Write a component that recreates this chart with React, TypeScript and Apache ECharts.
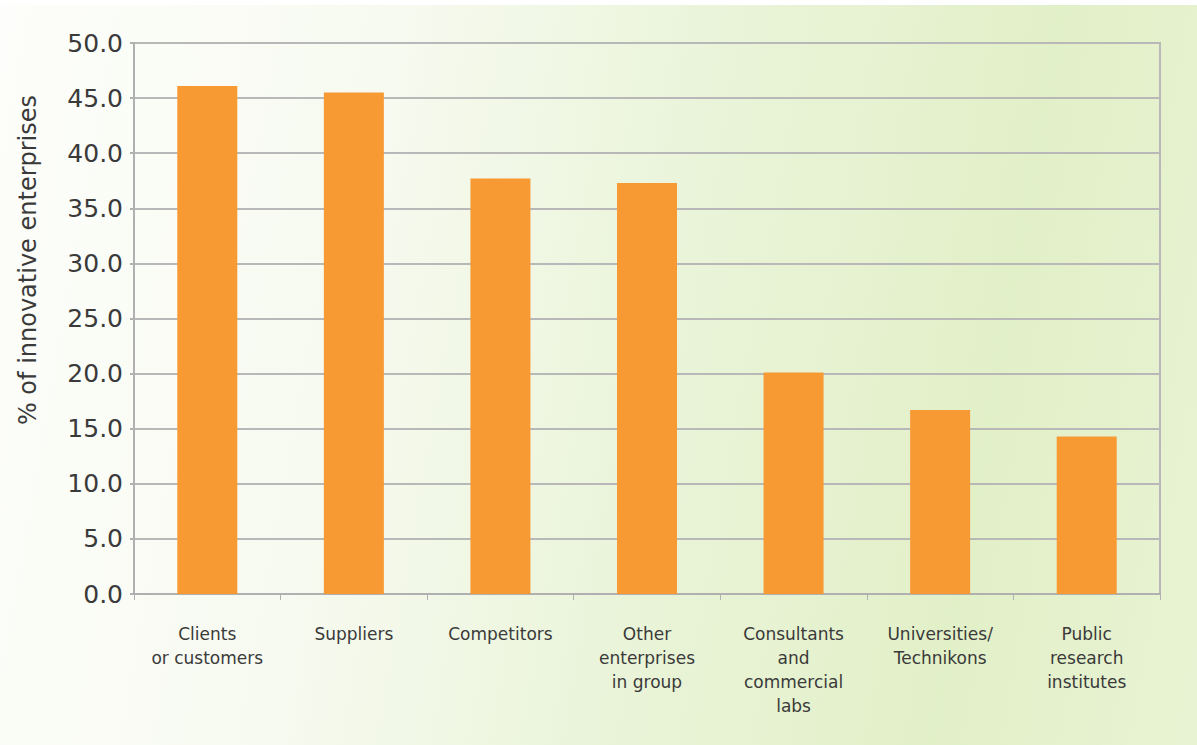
import React, { useEffect, useRef } from "react";
import * as echarts from "echarts";

const categories = [
  "Clients\nor customers",
  "Suppliers",
  "Competitors",
  "Other\nenterprises\nin group",
  "Consultants\nand\ncommercial\nlabs",
  "Universities/\nTechnikons",
  "Public\nresearch\ninstitutes",
];
const values = [46.1, 45.5, 37.7, 37.3, 20.1, 16.7, 14.3];
const yAxisName = "% of innovative enterprises";

const FONT = "'DejaVu Sans', sans-serif";

export default function App() {
  const ref = useRef<HTMLDivElement>(null);
  useEffect(() => {
    if (!ref.current) return;
    const chart = echarts.init(ref.current, undefined, { renderer: "svg" });
    chart.setOption({
      animation: false,
      grid: {
        left: 134,
        right: 37,
        top: 43,
        bottom: 151,
        show: true,
        borderColor: "#b8b8b8",
        borderWidth: 2,
        backgroundColor: "transparent",
      },
      graphic: [
        {
          type: "text",
          x: 28,
          y: 260,
          rotation: Math.PI / 2,
          style: {
            text: yAxisName,
            fill: "#3a3a3a",
            fontFamily: FONT,
            fontSize: 24,
            align: "center",
            verticalAlign: "middle",
          },
        },
      ],
      xAxis: {
        type: "category",
        data: categories,
        axisLine: { lineStyle: { color: "#b0b0b0", width: 2 } },
        axisTick: { show: true, length: 6, lineStyle: { color: "#b0b0b0", width: 1 } },
        axisLabel: {
          color: "#3a3a3a",
          fontFamily: FONT,
          fontSize: 17,
          lineHeight: 24,
          margin: 28,
          interval: 0,
        },
      },
      yAxis: {
        type: "value",
        min: 0,
        max: 50,
        interval: 5,
        axisLine: { show: true, lineStyle: { color: "#b0b0b0", width: 2 } },
        axisTick: { show: true, length: 4, lineStyle: { color: "#b0b0b0", width: 2 } },
        splitLine: { lineStyle: { color: "#b8b8b8", width: 2 } },
        axisLabel: {
          color: "#3a3a3a",
          fontFamily: FONT,
          fontSize: 25,
          margin: 11,
          formatter: (v: number) => v.toFixed(1),
        },
      },
      series: [
        {
          type: "bar",
          data: values,
          barWidth: 60,
          itemStyle: { color: "#f89a33" },
        },
      ],
    });
    return () => chart.dispose();
  }, []);
  return (
    <div
      style={{
        position: "fixed",
        left: 0,
        top: 0,
        width: 1197,
        height: 745,
        boxSizing: "border-box",
        borderTop: "5px solid #ffffff",
        background:
          "linear-gradient(100deg, #fdfefb 0%, #f7faf0 30%, #eaf4d9 55%, #e2f0c8 80%, #e8f3d3 100%)",
      }}
    >
      <div ref={ref} style={{ position: "absolute", left: 0, top: -5, width: 1197, height: 745 }} />
    </div>
  );
}
